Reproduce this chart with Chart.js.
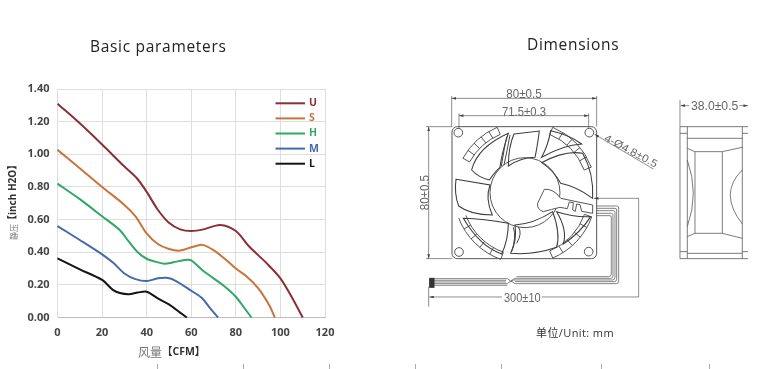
<!DOCTYPE html>
<html lang="en">

<head>
    <meta charset="UTF-8">
    <title>Basic parameters / Dimensions</title>
    <style>
        html, body { margin: 0; padding: 0; background: #fff; overflow: hidden; }
        #page { position: relative; width: 763px; height: 369px; filter: blur(0.45px); }
        #graph-container { position: absolute; left: 0; top: 0; width: 345px; height: 369px; }
        #drawing { position: absolute; left: 0; top: 0; }
        .title { position: absolute; font-family: "Open Sans", sans-serif; font-size: 15.5px; color: #222; letter-spacing: 0.7px; white-space: nowrap; }
    </style>
</head>

<body>
    <div id="page">
        <div class="title" style="left:90px; top:35px;">Basic parameters</div>
        <div class="title" style="left:527px; top:33px;">Dimensions</div>
        <div id="graph-container"><canvas id="Chart"></canvas></div>

        <svg id="drawing" width="763" height="369" xmlns="http://www.w3.org/2000/svg">
            <defs>
                <marker id="arr" viewBox="0 0 10 6" refX="10" refY="3" markerWidth="14" markerHeight="8" markerUnits="userSpaceOnUse" orient="auto-start-reverse">
                    <path d="M0 0L10 3L0 6z" fill="#444" />
                </marker>
            </defs>
            <!-- page ticks along the bottom -->
            <g stroke="#aaa" stroke-width="1">
                <path d="M157.5 364V369M243.5 364V369M329.5 364V369M415.5 364V369M501.5 364V369M601.5 364V369M709.5 364V369" />
            </g>
            <!-- drawing coords are 3x, same as reading off the zoomed picture -->
            <g transform="translate(400,70) scale(0.3333)" fill="none" stroke="#555" stroke-width="3">
                <g id="fan">
                    <rect x="156" y="170" width="434" height="396" rx="16" />
                    <circle cx="175" cy="188" r="13" />
                    <circle cx="568" cy="188" r="13" />
                    <circle cx="177" cy="546" r="13" />
                    <circle cx="566" cy="545" r="13" />
                    <circle cx="375" cy="368" r="105" />
                </g>
                <g stroke="#3c3c3c" stroke-width="3.2">
                    <path d="M342 192L418 183Q412 230 405 262Q365 262 325 288Q325 232 342 192Z" />
                    <path d="M452 182Q445 225 425 262Q490 225 545 222Q510 195 452 182Z" />
                    <path d="M425 278Q495 240 548 250Q582 310 578 385Q530 350 482 340Q460 300 425 278Z" />
                    <path d="M215 300Q232 232 325 190Q305 250 300 292Q285 305 268 330Q235 322 215 300Z" />
                    <path d="M168 328L270 345Q255 385 277 435Q212 435 176 408Q162 370 168 328Z" />
                    <path d="M190 445Q250 447 325 460Q325 510 305 552Q240 530 190 445Z" />
                    <path d="M345 465Q400 462 458 425Q482 490 470 532Q400 556 332 550Q352 510 345 465Z" />
                    <path d="M470 425Q503 480 490 522Q540 490 572 440Q520 442 470 425Z" />
                </g>
                <path d="M340 472Q350 500 335 545M355 470Q368 490 350 520M330 195Q322 240 312 285M320 200Q312 240 304 288" stroke="#444" />
                <path d="M433 358Q460 355 482 385L578 405V430L545 424L540 404L530 402L526 424L518 420L520 398L508 396L502 416L480 412Q455 418 430 425Q410 418 413 400Z" fill="#fff" />
                <path id="wires" stroke="#555" stroke-width="2.2" d="M590 408H650Q656 408 656 414V634Q656 641 650 641H345L333 633M590 415H645Q650 415 650 420V628Q650 635 643 635H345M590 422H640Q645 422 645 427V622Q645 630 638 630H340L330 636M590 430H634Q639 430 639 435V618Q639 625 632 625H345L333 633M590 437H630Q634 437 634 441V612Q634 620 626 620H350M102 626H322L332 633L322 641H102M102 631H318M102 636H318M102 646H322" />
                <rect x="89" y="625" width="13" height="27" fill="#333" stroke="#333" />
                <g stroke="#555" stroke-width="2">
                    <path d="M155 78V170M590 78V170M177 130V176M566 130V176M78 170H157M78 566H157M840 90V170M86 650V710" />
                    <path d="M155 85H590" marker-start="url(#arr)" marker-end="url(#arr)" />
                    <path d="M177 137H566" marker-start="url(#arr)" marker-end="url(#arr)" />
                    <path d="M86 170V566" marker-start="url(#arr)" marker-end="url(#arr)" />
                    <path d="M584 193L760 297" marker-start="url(#arr)" />
                    <path d="M88 681H306" marker-start="url(#arr)" />
                    <path d="M425 681H716V385H582" marker-end="url(#arr)" />
                    <path d="M868 107H842" marker-end="url(#arr)" />
                    <path d="M1018 107H1044" marker-end="url(#arr)" />
                </g>
                <g id="side" stroke="#666" stroke-width="2.6">
                    <path d="M1044 170H840V566H1044M862 170V566M1027 170V566M840 190H862M1027 190H1044M840 545H862M1027 545H1044M862 205H1027M862 550H1027" />
                    <path d="M862 235L885 245H967L1027 232M862 500L885 490H967L1027 505M885 245V490M967 245V490" />
                    <path d="M862 270Q898 370 862 470M1027 300Q955 370 1027 462" />
                </g>
                <g font-family="'Liberation Sans', sans-serif" font-size="37" fill="#666" stroke="none" text-anchor="middle">
                    <text x="372" y="84" textLength="106" lengthAdjust="spacingAndGlyphs">80±0.5</text>
                    <text x="372" y="137" textLength="132" lengthAdjust="spacingAndGlyphs">71.5±0.3</text>
                    <text transform="translate(86,368) rotate(-90)" textLength="106" lengthAdjust="spacingAndGlyphs">80±0.5</text>
                    <text transform="translate(688,252) rotate(28)" font-size="32" textLength="176" lengthAdjust="spacingAndGlyphs">4-Ø4.8±0.5</text>
                    <text x="367" y="696" textLength="110" lengthAdjust="spacingAndGlyphs">300±10</text>
                    <text x="944" y="121" textLength="142" lengthAdjust="spacingAndGlyphs">38.0±0.5</text>
                </g>
            </g>
            <text x="536" y="337" font-family="'Open Sans','Noto Sans CJK SC',sans-serif" font-size="11" fill="#333" letter-spacing="0.4">单位/Unit: mm</text>
        </svg>
    </div>

    <script src="https://cdnjs.cloudflare.com/ajax/libs/Chart.js/4.4.1/chart.umd.js"></script>
    <script>
        const seriesNames = ["U", "S", "H", "M", "L"];
        const seriesColors = ["#8a2f36", "#c8743c", "#2fa862", "#4569a9", "#141414"];

        // CFM
        const flowU = [0, 10, 20, 30, 35.6, 40, 45, 50, 55, 60, 65.5, 73, 80, 86, 94, 100, 105, 110];
        const flowS = [0, 10, 20, 30, 35, 40, 45, 50, 55, 60, 65, 70, 75, 80, 85, 90, 95, 97.5];
        const flowH = [0, 10, 20, 28, 32, 36, 40, 45, 48, 52, 57, 60, 65, 70, 75, 80, 84, 87];
        const flowM = [0, 10, 20, 25, 30, 35, 40, 45, 49, 53, 60, 65, 68, 72];
        const flowL = [0, 10, 20, 25, 28, 32, 36, 40, 45, 50, 55, 58];

        // 静压 inch H2O
        const pressU = [1.31, 1.19, 1.06, 0.925, 0.853, 0.77, 0.66, 0.58, 0.54, 0.53, 0.54, 0.567, 0.53, 0.435, 0.33, 0.24, 0.127, 0];
        const pressS = [1.027, 0.915, 0.80, 0.69, 0.62, 0.515, 0.45, 0.42, 0.41, 0.43, 0.445, 0.413, 0.36, 0.30, 0.25, 0.18, 0.075, 0];
        const pressH = [0.82, 0.725, 0.62, 0.535, 0.465, 0.40, 0.36, 0.338, 0.33, 0.338, 0.352, 0.35, 0.29, 0.24, 0.19, 0.127, 0.055, 0];
        const pressM = [0.56, 0.475, 0.387, 0.335, 0.27, 0.235, 0.223, 0.24, 0.243, 0.225, 0.164, 0.117, 0.065, 0];
        const pressL = [0.362, 0.295, 0.23, 0.168, 0.15, 0.143, 0.153, 0.158, 0.117, 0.08, 0.03, 0];

        const allFlow = [flowU, flowS, flowH, flowM, flowL];
        const allPress = [pressU, pressS, pressH, pressM, pressL];

        const cjkFont = "'Noto Sans CJK SC', sans-serif";
        const boldFont = "'Open Sans', 'Noto Sans CJK SC', sans-serif";

        // legend sits inside the plot, the built in one can't go there
        const innerLegend = {
            id: "innerLegend",
            afterDraw(chart) {
                const c = chart.ctx;
                chart.data.datasets.forEach((ds, i) => {
                    const y = 103.3 + i * 15.1;
                    c.save();
                    c.strokeStyle = ds.borderColor;
                    c.lineWidth = 2;
                    c.beginPath();
                    c.moveTo(275.5, y);
                    c.lineTo(305, y);
                    c.stroke();
                    c.fillStyle = ds.borderColor;
                    c.font = "bold 10.5px 'Open Sans', sans-serif";
                    c.textBaseline = "middle";
                    c.fillText(ds.label, 309, y);
                    c.restore();
                });
            }
        };

        // axis titles mix a thin grey part and a bold part, scale title only takes one font
        const axisNames = {
            id: "axisNames",
            afterDraw(chart) {
                const c = chart.ctx;
                c.save();
                c.textBaseline = "middle";
                c.fillStyle = "#777";
                c.font = "12px " + cjkFont;
                c.fillText("风量", 138, 352.5);
                c.fillStyle = "#333";
                c.font = "bold 10.5px " + boldFont;
                c.fillText("【CFM】", 162, 352.5);
                c.translate(13.5, 240);
                c.rotate(-Math.PI / 2);
                c.fillStyle = "#777";
                c.font = "8px " + cjkFont;
                c.fillText("静压", 0, 0);
                c.fillStyle = "#333";
                c.font = "bold 10px " + boldFont;
                c.fillText("【inch H2O】", 15, 0);
                c.restore();
            }
        };

        new Chart(document.getElementById("Chart"), {
            type: "line",
            data: {
                datasets: seriesNames.map((name, i) => ({
                    label: name,
                    data: allFlow[i].map((x, j) => ({ x: x, y: allPress[i][j] })),
                    borderColor: seriesColors[i],
                    borderWidth: 2,
                    pointRadius: 0,
                    tension: 0.3,
                    clip: false
                }))
            },
            options: {
                responsive: true,
                maintainAspectRatio: false,
                animation: false,
                layout: { padding: { left: 0, right: 20, top: 89, bottom: 0 } },
                plugins: { legend: { display: false }, tooltip: { enabled: false } },
                scales: {
                    x: {
                        type: "linear",
                        min: 0,
                        max: 120,
                        afterFit(s) { s.height = 51.5; },
                        ticks: { stepSize: 20, color: "#444", padding: 9, font: { family: "'Open Sans', sans-serif", size: 11, weight: "bold" }, maxRotation: 0 },
                        grid: { color: "#dedede", drawTicks: false },
                        border: { color: "#bdbdbd" }
                    },
                    y: {
                        min: 0,
                        max: 1.4,
                        afterFit(s) { s.width = 57.5; },
                        ticks: { stepSize: 0.2, color: "#444", padding: 8, callback: (v) => v.toFixed(2), font: { family: "'Open Sans', sans-serif", size: 11, weight: "bold" } },
                        grid: { color: "#dedede", drawTicks: false },
                        border: { color: "#dedede" }
                    }
                }
            },
            plugins: [innerLegend, axisNames]
        });

        // ring of small blocks in the four corners of the fan
        const fan = document.getElementById("fan");
        const ringCorners = [[209, 247], [293, 339], [20, 67], [110, 159]];
        const rad = (d) => d * Math.PI / 180;
        ringCorners.forEach((r) => {
            let d = "";
            for (let a = r[0]; a <= r[1]; a += (r[1] - r[0]) / 5) {
                const ca = Math.cos(rad(a)), sa = Math.sin(rad(a));
                d += "M" + (375 + 190 * ca) + " " + (368 + 190 * sa) + "L" + (375 + 213 * ca) + " " + (368 + 213 * sa);
            }
            [190, 213].forEach((R) => {
                d += "M" + (375 + R * Math.cos(rad(r[0]))) + " " + (368 + R * Math.sin(rad(r[0])));
                d += "A" + R + " " + R + " 0 0 1 " + (375 + R * Math.cos(rad(r[1]))) + " " + (368 + R * Math.sin(rad(r[1])));
            });
            const p = document.createElementNS("http://www.w3.org/2000/svg", "path");
            p.setAttribute("d", d);
            fan.appendChild(p);
        });
    </script>

</body>

</html>
